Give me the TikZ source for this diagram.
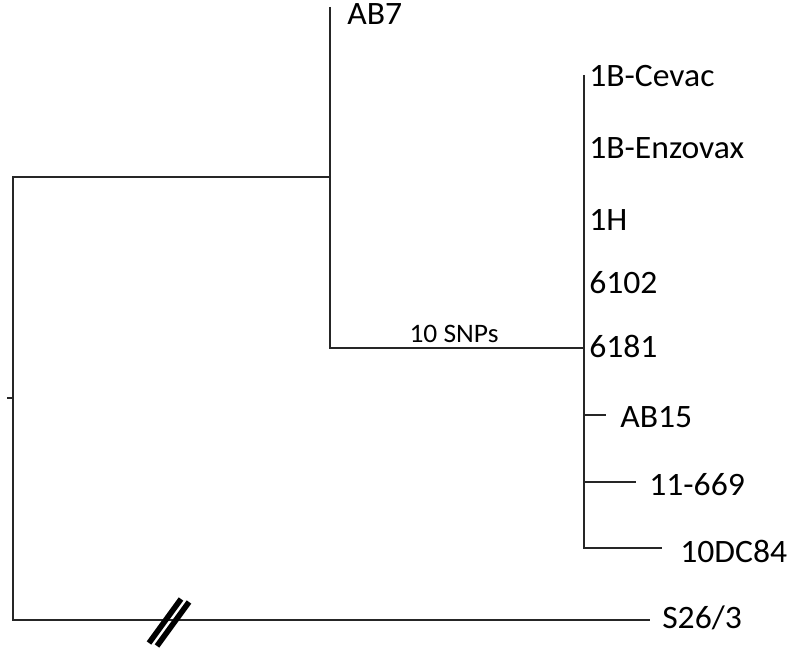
\documentclass[tikz,border=0pt]{standalone}
\usepackage{fontspec}
\setmainfont{Carlito}[FakeStretch=1.03]
\begin{document}
\begin{tikzpicture}[x=0.75pt,y=-0.75pt,
  branch/.style={line width=1.6pt,draw=black!85},
  leaf/.style={anchor=base west,inner sep=0pt,font=\fontsize{24.5}{28}\selectfont},
  brk/.style={line width=4.2pt,draw=black}]
\useasboundingbox (0,0) rectangle (788,649);
% junctions
\coordinate (root) at (13,398);
\coordinate (rtop) at (13,177);
\coordinate (rbot) at (13,620);
\coordinate (rtick) at (7,398);
\coordinate (n1) at (330,177);
\coordinate (n1top) at (330,7);
\coordinate (n1bot) at (330,348);
\coordinate (n2) at (584,348);
\coordinate (n2top) at (584,75);
\coordinate (n2bot) at (584,548);
\coordinate (b15) at (584,415);
\coordinate (b669) at (584,482);
\coordinate (e15) at (606,415);
\coordinate (e669) at (636,482);
\coordinate (e84) at (662,548);
\coordinate (eS) at (650,620);
% labels
\node[leaf] (AB7) at (347,25) {AB7};
\node[leaf] (cev) at (589,87) {1B-Cevac};
\node[leaf] (enz) at (589,158) {1B-Enzovax};
\node[leaf] (h1) at (589,230) {1H};
\node[leaf] (l6102) at (589,293) {6102};
\node[leaf] (l6181) at (589,357) {6181};
\node[leaf] (ab15) at (620,427) {AB15};
\node[leaf] (l11) at (649,495) {11-669};
\node[leaf] (l10) at (680,562) {10DC84};
\node[leaf] (s26) at (662,628) {S26/3};
\node[anchor=base,inner sep=0pt,font=\fontsize{20}{22}\selectfont] (snp) at (454,342) {10 SNPs};
% tree
\draw[branch] (rtick) -- (root);
\draw[branch] (n1) -- (rtop) -- (rbot) -- (eS);
\draw[branch] (n1top) -- (n1bot) -- (n2);
\draw[branch] (n2top) -- (n2bot) -- (e84);
\draw[branch] (b15) -- (e15);
\draw[branch] (b669) -- (e669);
% break marks
\coordinate (bk1a) at (149,643);
\coordinate (bk1b) at (181,599);
\coordinate (bk2a) at (157,646);
\coordinate (bk2b) at (189,602);
\draw[brk] (bk1a) -- (bk1b);
\draw[brk] (bk2a) -- (bk2b);
\end{tikzpicture}
\end{document}
